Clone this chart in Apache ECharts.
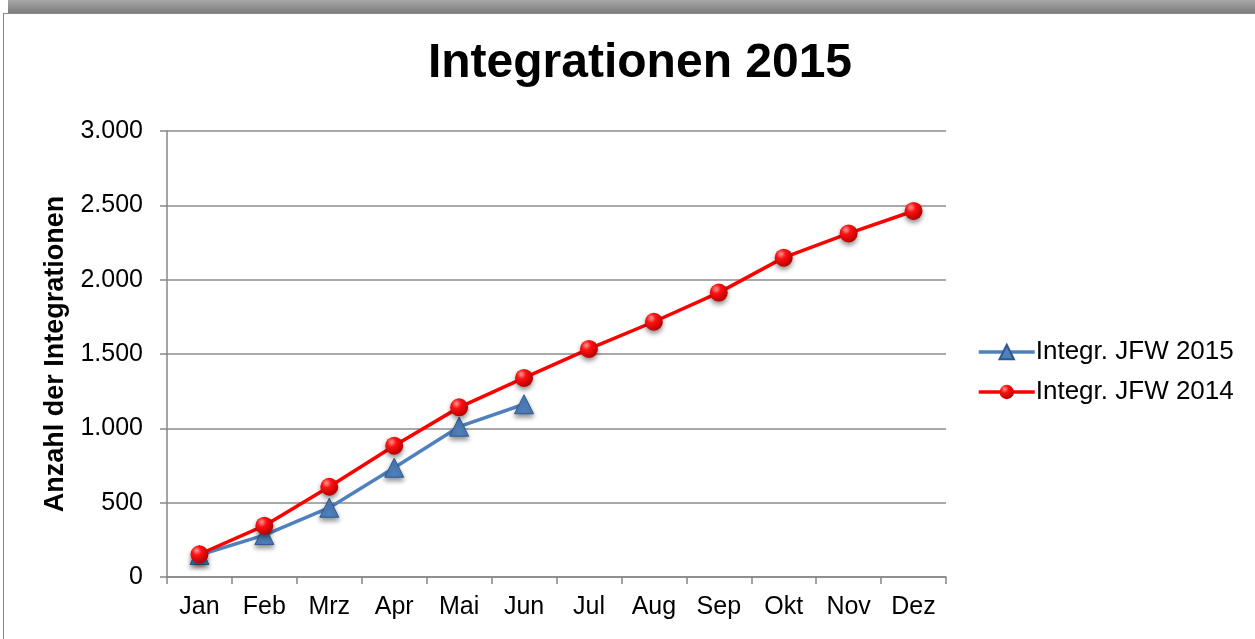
<!DOCTYPE html>
<html>
<head>
<meta charset="utf-8">
<script src="https://cdn.jsdelivr.net/npm/echarts@6/dist/echarts.min.js"></script>
<style>
    html, body { margin: 0; padding: 0; background: #fff; }
    #frameTop {
        position: absolute; left: 8px; top: 0; width: 1247px; height: 13px;
        background: linear-gradient(to bottom, #a8a8a8, #7c7c7c);
    }
    #frame {
        position: absolute; left: 3px; top: 13px; width: 1252px; height: 626px;
        border-left: 1px solid #8a8a8a; border-top: 1px solid #8a8a8a;
        background: #fff;
    }
    #echarts { position: absolute; left: 0; top: 0; width: 1255px; height: 639px; }
</style>
</head>
<body>
<div id="frameTop"></div>
<div id="frame"></div>
<div id="echarts"></div>
<script>
// Chart data
const months = ['Jan', 'Feb', 'Mrz', 'Apr', 'Mai', 'Jun', 'Jul', 'Aug', 'Sep', 'Okt', 'Nov', 'Dez'];
const integ2015 = [148, 282, 466, 735, 1011, 1162];
const integ2014 = [153, 345, 607, 883, 1141, 1339, 1534, 1717, 1913, 2148, 2311, 2462];
const yTicks = [0, 500, 1000, 1500, 2000, 2500, 3000];

const chart = echarts.init(document.getElementById('echarts'));

const font = 'Liberation Sans, Arial, sans-serif';

// German thousands separator
function fmt(v) {
    return v >= 1000 ? Math.floor(v / 1000) + '.' + String(v % 1000).padStart(3, '0') : String(v);
}

const redBall = {
    type: 'radial', x: 0.35, y: 0.3, r: 0.75,
    colorStops: [
        { offset: 0, color: '#ff9a9a' },
        { offset: 0.35, color: '#ff1010' },
        { offset: 1, color: '#b00000' }
    ]
};

const option = {
    animation: false,
    title: {
        text: 'Integrationen 2015',
        left: 635,
        textAlign: 'center',
        top: 35,
        textStyle: { fontFamily: font, fontSize: 48, fontWeight: 'bold', color: '#000' }
    },
    legend: {
        orient: 'vertical',
        left: 972,
        top: 334,
        itemWidth: 56,
        itemHeight: 18,
        itemGap: 14,
        lineStyle: { width: 3.5 },
        textStyle: { fontFamily: font, fontSize: 26, lineHeight: 26, color: '#000', padding: [0, 0, 0, -4] },
        data: ['Integr. JFW 2015', 'Integr. JFW 2014']
    },
    grid: { left: 167, right: 309, top: 131, bottom: 62 },
    xAxis: {
        type: 'category',
        data: months,
        boundaryGap: true,
        axisLine: { lineStyle: { color: '#868686', width: 1.5 } },
        axisTick: { show: true, length: 7, inside: false, lineStyle: { color: '#868686', width: 1.5 } },
        axisLabel: { fontFamily: font, fontSize: 25, color: '#000', margin: 18 }
    },
    yAxis: {
        type: 'value',
        min: yTicks[0],
        max: yTicks[yTicks.length - 1],
        interval: 500,
        name: 'Anzahl der Integrationen',
        nameLocation: 'middle',
        nameGap: 96,
        nameTextStyle: { fontFamily: font, fontSize: 27, fontWeight: 'bold', color: '#000' },
        axisLine: { show: true, lineStyle: { color: '#868686', width: 1.5 } },
        axisTick: { show: true, length: 7, lineStyle: { color: '#868686', width: 1.5 } },
        axisLabel: { fontFamily: font, fontSize: 25, color: '#000', margin: 24, formatter: fmt },
        splitLine: { lineStyle: { color: '#8c8c8c', width: 1.5 } }
    },
    series: [
        {
            name: 'Integr. JFW 2015',
            type: 'line',
            data: integ2015,
            symbol: 'triangle',
            symbolSize: 19,
            lineStyle: { color: '#4f81bd', width: 3.5 },
            itemStyle: {
                color: '#4f81bd', borderColor: '#2c5a8c', borderWidth: 1,
                shadowColor: 'rgba(0,0,0,0.45)', shadowBlur: 5, shadowOffsetY: 3
            },
            z: 2
        },
        {
            name: 'Integr. JFW 2014',
            type: 'line',
            data: integ2014,
            symbol: 'circle',
            symbolSize: 18,
            lineStyle: { color: '#ff0000', width: 3.5 },
            itemStyle: {
                color: redBall, borderWidth: 0,
                shadowColor: 'rgba(0,0,0,0.45)', shadowBlur: 5, shadowOffsetY: 3
            },
            z: 3
        }
    ]
};

chart.setOption(option);
</script>
</body>
</html>
